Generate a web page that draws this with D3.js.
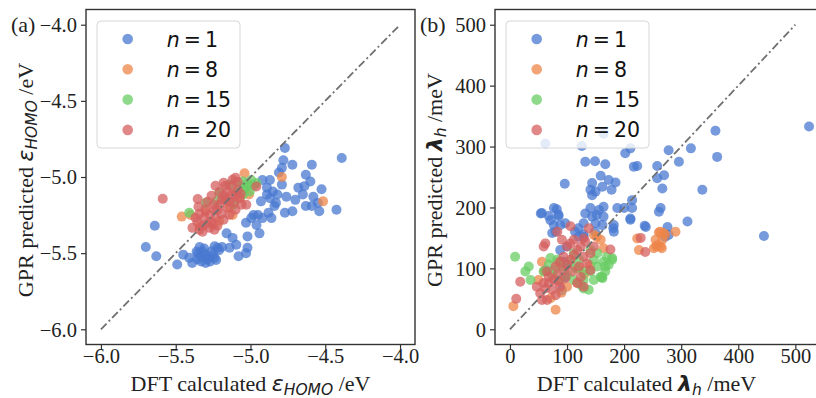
<!DOCTYPE html>
<html>
<head>
<meta charset="utf-8">
<script src="https://cdn.jsdelivr.net/npm/d3@7"></script>
<style>
  body { margin: 0; background: #fff; }
  svg { display: block; }
</style>
</head>
<body>
<svg id="chart" width="816" height="398"></svg>
<script>
// n values of the four series and their colours (seaborn "muted")
const seriesLabels = ["1", "8", "15", "20"];
const seriesColors = ["#4878d0", "#ee854a", "#6acc64", "#d65f5f"];

// (a) HOMO energy, [DFT, GPR] in eV
const homoN1 = [
  [-4.77, -4.81], [-4.39, -4.875], [-4.78, -4.89], [-4.72, -4.92], [-4.79, -4.94], [-4.81, -4.97],
  [-4.59, -4.92], [-4.63, -4.985], [-4.60, -5.03], [-4.68, -5.07], [-4.64, -5.06], [-4.525, -5.08],
  [-4.92, -5.02], [-4.87, -5.02], [-4.89, -5.07], [-4.85, -5.095], [-4.82, -5.115], [-4.87, -5.14],
  [-4.83, -5.17], [-4.76, -5.13], [-4.93, -5.16], [-4.70, -5.15], [-4.65, -5.115], [-4.58, -5.13],
  [-4.55, -5.17], [-4.59, -5.19], [-4.63, -5.19], [-4.54, -5.225], [-4.425, -5.215], [-4.77, -5.235],
  [-4.72, -5.225], [-4.88, -5.235], [-4.86, -5.27], [-4.95, -5.25], [-4.995, -5.27], [-4.96, -5.315],
  [-5.03, -5.30], [-4.94, -5.37], [-5.02, -5.39], [-5.16, -5.37], [-5.12, -5.40], [-5.095, -5.445],
  [-5.14, -5.465], [-5.08, -5.52], [-5.03, -5.50], [-5.02, -5.465], [-5.36, -5.49], [-5.34, -5.52],
  [-5.30, -5.51], [-5.24, -5.455], [-5.22, -5.465], [-5.25, -5.51], [-5.23, -5.545], [-5.33, -5.555],
  [-5.39, -5.565], [-5.49, -5.575], [-5.45, -5.51], [-5.30, -5.565], [-5.64, -5.32], [-5.70, -5.46],
  [-5.63, -5.52], [-5.32, -5.49], [-5.28, -5.53], [-5.26, -5.49], [-5.31, -5.47], [-5.355, -5.54],
  [-5.27, -5.555], [-5.41, -5.53], [-5.21, -5.48], [-4.98, -5.25], [-4.92, -5.27], [-4.79, -5.05],
  [-4.89, -5.115], [-4.84, -5.19], [-5.35, -5.50], [-5.29, -5.54], [-5.24, -5.53], [-5.19, -5.46],
  [-5.34, -5.46]
];
const homoN8 = [
  [-5.04, -4.975], [-4.79, -5.0], [-4.515, -5.16], [-5.46, -5.26], [-5.21, -5.29], [-5.12, -5.25],
  [-5.40, -5.25], [-5.25, -5.31], [-5.14, -5.20], [-5.07, -5.14], [-5.34, -5.325], [-5.01, -5.115],
  [-5.30, -5.225]
];
const homoN15 = [
  [-5.41, -5.235], [-5.30, -5.17], [-5.05, -5.03], [-4.995, -5.02], [-5.02, -5.06], [-5.07, -5.06],
  [-5.095, -5.105], [-5.05, -5.115], [-5.005, -5.095], [-5.11, -5.18], [-5.23, -5.16], [-5.14, -5.05],
  [-5.21, -5.105], [-5.17, -5.14], [-4.96, -5.04], [-5.04, -5.075], [-4.975, -5.055], [-5.02, -5.04]
];
const homoN20 = [
  [-5.388, -5.334], [-5.355, -5.294], [-5.341, -5.347], [-5.308, -5.268], [-5.321, -5.32], [-5.288, -5.307],
  [-5.274, -5.248], [-5.261, -5.294], [-5.241, -5.215], [-5.234, -5.268], [-5.221, -5.32], [-5.207, -5.182],
  [-5.194, -5.241], [-5.18, -5.281], [-5.167, -5.149], [-5.154, -5.202], [-5.14, -5.248], [-5.127, -5.116],
  [-5.113, -5.169], [-5.10, -5.215], [-5.086, -5.083], [-5.073, -5.136], [-5.06, -5.182], [-5.154, -5.097],
  [-5.194, -5.149], [-5.247, -5.182], [-5.301, -5.215], [-5.341, -5.241], [-5.086, -5.031],
  [-5.127, -5.057], [-5.167, -5.057], [-5.207, -5.097], [-5.261, -5.123], [-5.288, -5.162], [-5.221, -5.215],
  [-5.18, -5.123], [-5.14, -5.162], [-5.10, -5.123], [-5.066, -5.11], [-5.274, -5.334],
  [-5.321, -5.36], [-5.241, -5.347], [-5.368, -5.268], [-5.348, -5.195], [-5.234, -5.057], [-5.18, -5.038],
  [-5.12, -5.018], [-5.1, -5.005], [-5.587, -5.143], [-4.961, -5.062], [-5.353, -5.145], [-5.028, -5.182]
];

// (b) hole reorganization energy, [DFT, GPR] in meV
const lambdaN1 = [
  [360, 326], [363, 283], [317, 297], [278, 294], [296, 275], [258, 268], [270, 253], [258, 248],
  [267, 231], [337, 229], [264, 199], [261, 193], [214, 212], [214, 199], [200, 199], [211, 182],
  [188, 199], [238, 168], [276, 168], [311, 177], [278, 155], [202, 289], [211, 297], [217, 267],
  [223, 268], [167, 271], [149, 276], [132, 275], [159, 252], [173, 245], [185, 241], [144, 240],
  [141, 229], [150, 226], [162, 234], [178, 229], [144, 220], [96, 239], [164, 201], [156, 196],
  [141, 199], [132, 190], [144, 185], [164, 185], [150, 174], [120, 166], [129, 174], [182, 171],
  [182, 160], [162, 171], [56, 191], [68, 186], [77, 199], [82, 197], [85, 186], [71, 179],
  [77, 171], [80, 160], [74, 158], [88, 171], [129, 156], [129, 152], [94, 111], [91, 64],
  [100, 106], [100, 136], [62, 305], [126, 301], [164, 321], [524, 333], [445, 153], [272, 152],
  [236, 170], [211, 180], [114, 160], [120, 152], [152, 188], [181, 166], [149, 160], [85, 188],
  [97, 174], [54, 190], [88, 130], [62, 97], [97, 86]
];
const lambdaN8 = [
  [6, 38], [80, 32], [56, 111], [50, 81], [71, 51], [147, 155], [164, 133], [159, 147], [152, 152],
  [118, 76], [223, 149], [226, 130], [256, 136], [266, 133], [255, 147], [269, 158], [272, 155],
  [263, 160], [290, 160], [261, 159], [258, 138], [264, 136], [252, 133], [267, 147], [60, 95],
  [90, 60], [100, 70], [130, 90], [85, 110], [120, 100], [140, 105]
];
const lambdaN15 = [
  [9, 119], [33, 103], [27, 95], [36, 81], [71, 117], [83, 114], [68, 106], [77, 97], [91, 103],
  [100, 89], [112, 81], [124, 73], [129, 67], [138, 65], [147, 114], [153, 103], [141, 95], [159, 86],
  [164, 111], [173, 106], [179, 117], [170, 119], [167, 95], [162, 84], [153, 125], [141, 130],
  [121, 114], [115, 100], [106, 111], [74, 89], [88, 81], [59, 95], [112, 125], [129, 95], [129, 81],
  [147, 81], [161, 86], [179, 114], [167, 103]
];
const lambdaN20 = [
  [106, 169], [83, 160], [62, 141], [59, 136], [91, 147], [138, 166], [129, 149], [176, 131],
  [106, 141], [18, 78], [11, 50], [65, 48], [53, 59], [62, 67], [68, 76], [77, 81], [74, 65],
  [83, 89], [88, 70], [94, 97], [100, 106], [106, 114], [112, 122], [118, 130], [124, 136],
  [132, 144], [129, 119], [135, 108], [121, 103], [109, 95], [97, 84], [85, 78], [59, 76],
  [68, 86], [56, 48], [80, 56], [141, 125], [124, 86], [141, 97], [147, 136], [112, 147],
  [100, 136], [94, 119], [88, 111], [80, 103], [65, 95], [47, 70], [118, 76], [129, 70],
  [229, 150], [237, 127]
];

const homoTicks = [-6, -5.5, -5, -4.5, -4];
const lambdaTicks = [0, 100, 200, 300, 400, 500];
const homoDiagonal = [[-6, -6], [-4, -4]];
const lambdaDiagonal = [[0, 0], [500, 500]];

const plotTop = 9.5;
const plotBottom = 344.5;
const plotWidth = 329;
const serif = "'Liberation Serif', 'Times New Roman', serif";
const sans = "'DejaVu Sans', sans-serif";

const svg = d3.select("#chart");

function addQuantity(text, cfg, prefix) {
  text.append("tspan").text(prefix);
  text.append("tspan")
    .style("font-family", sans)
    .style("font-style", "italic")
    .style("font-weight", cfg.symbolWeight)
    .text(cfg.symbol);
  text.append("tspan")
    .attr("dy", 4)
    .style("font-family", sans)
    .style("font-style", "italic")
    .style("font-size", "15.5px")
    .text(cfg.sub);
  text.append("tspan").attr("dy", -4).text(cfg.unit);
}

function drawPanel(cfg) {
  const x = d3.scaleLinear().domain(cfg.xDomain).range([cfg.left, cfg.left + plotWidth]);
  const y = d3.scaleLinear().domain(cfg.yDomain).range([plotBottom, plotTop]);
  const g = svg.append("g");

  // scatter, n = 1 first so n = 20 ends on top
  cfg.series.forEach((points, i) => {
    g.append("g")
      .selectAll("circle")
      .data(points)
      .join("circle")
      .attr("cx", (d) => x(d[0]))
      .attr("cy", (d) => y(d[1]))
      .attr("r", 5)
      .attr("fill", seriesColors[i])
      .attr("fill-opacity", 0.75);
  });

  g.append("path")
    .datum(cfg.diagonal)
    .attr("fill", "none")
    .attr("stroke", "#707070")
    .attr("stroke-width", 1.8)
    .attr("stroke-dasharray", "8,3,2,3")
    .attr("d", d3.line().x((d) => x(d[0])).y((d) => y(d[1])));

  const xAxis = d3.axisBottom(x).tickValues(cfg.ticks).tickFormat(cfg.format).tickSize(5).tickSizeOuter(0);
  const yAxis = d3.axisLeft(y).tickValues(cfg.ticks).tickFormat(cfg.format).tickSize(5).tickPadding(4).tickSizeOuter(0);

  const gx = g.append("g").attr("transform", `translate(0,${plotBottom})`).call(xAxis);
  gx.selectAll("text").attr("y", 18).attr("dy", null);
  const gy = g.append("g").attr("transform", `translate(${cfg.left},0)`).call(yAxis);
  gy.selectAll("text").attr("dy", "0.33em");

  [gx, gy].forEach((a) => {
    a.select(".domain").remove();
    a.selectAll("line").attr("stroke", "#333").attr("stroke-width", 1.2);
    a.selectAll("text").attr("fill", "#222").style("font-family", serif).style("font-size", "20.5px");
  });

  g.append("rect")
    .attr("x", cfg.left)
    .attr("y", plotTop)
    .attr("width", plotWidth)
    .attr("height", plotBottom - plotTop)
    .attr("fill", "none")
    .attr("stroke", "#333")
    .attr("stroke-width", 1.4);

  // axis labels
  const xl = g.append("text")
    .attr("x", cfg.left + plotWidth / 2 + cfg.xLabelShift)
    .attr("y", 391)
    .attr("text-anchor", "middle")
    .attr("fill", "#222")
    .style("font-family", serif)
    .style("font-size", "22px");
  addQuantity(xl, cfg, "DFT calculated ");

  const yl = g.append("text")
    .attr("transform", `translate(${cfg.left - 53},${(plotTop + plotBottom) / 2 + 3}) rotate(-90)`)
    .attr("text-anchor", "middle")
    .attr("fill", "#222")
    .style("font-family", serif)
    .style("font-size", "22px");
  addQuantity(yl, cfg, "GPR predicted ");

  g.append("text")
    .attr("x", cfg.left - 75)
    .attr("y", 32)
    .attr("fill", "#222")
    .style("font-family", serif)
    .style("font-size", "22px")
    .text(cfg.tag);

  // legend
  const lg = g.append("g");
  lg.append("rect")
    .attr("x", cfg.left + 11)
    .attr("y", 21)
    .attr("width", 143)
    .attr("height", 127)
    .attr("rx", 4)
    .attr("fill", "#fff")
    .attr("fill-opacity", 0.8)
    .attr("stroke", "#d6d6d6")
    .attr("stroke-width", 1);
  const rows = lg.selectAll("g.row")
    .data(seriesLabels)
    .join("g")
    .attr("class", "row")
    .attr("transform", (d, i) => `translate(${cfg.left + 41.7},${39 + i * 30.3})`);
  rows.append("circle")
    .attr("r", 5.3)
    .attr("fill", (d, i) => seriesColors[i])
    .attr("fill-opacity", 0.75);
  const lt = rows.append("text")
    .attr("x", 39)
    .attr("y", 7.5)
    .attr("fill", "#111")
    .style("font-family", sans)
    .style("font-size", "20.5px");
  lt.append("tspan").style("font-style", "italic").text("n");
  lt.append("tspan").text((d) => "\u2009=\u2009" + d);
}

drawPanel({
  tag: "(a)",
  left: 86,
  xDomain: [-6.1, -3.9],
  yDomain: [-6.1, -3.9],
  ticks: homoTicks,
  format: d3.format(".1f"),
  diagonal: homoDiagonal,
  series: [homoN1, homoN8, homoN15, homoN20],
  symbol: "\u03b5",
  symbolWeight: "normal",
  sub: "HOMO",
  unit: " /eV",
  xLabelShift: 0
});

drawPanel({
  tag: "(b)",
  left: 495,
  xDomain: [-26.2, 550.2],
  yDomain: [-25, 525],
  ticks: lambdaTicks,
  format: d3.format("d"),
  diagonal: lambdaDiagonal,
  series: [lambdaN1, lambdaN8, lambdaN15, lambdaN20],
  symbol: "\u03bb",
  symbolWeight: "bold",
  sub: "h",
  unit: " /meV",
  xLabelShift: -13
});
</script>
</body>
</html>
